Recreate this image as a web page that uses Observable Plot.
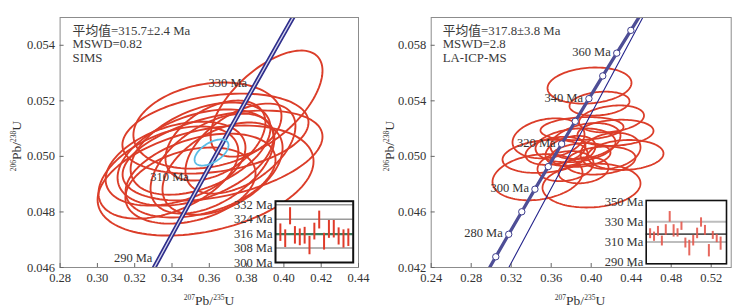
<!DOCTYPE html>
<html>
<head>
<meta charset="utf-8">
<script src="https://cdn.jsdelivr.net/npm/d3@7"></script>
<script src="https://cdn.jsdelivr.net/npm/@observablehq/plot@0.6"></script>
<style>
  html, body { margin: 0; padding: 0; background: #fff; }
  #wrap { position: relative; width: 747px; height: 308px; overflow: hidden; font-family: "Liberation Serif", "Noto Sans CJK SC", serif; color: #333; }
  #wrap svg { overflow: visible; font-family: "Liberation Serif", "Noto Sans CJK SC", serif; }
  #wrap svg text { font-family: "Liberation Serif", "Noto Sans CJK SC", serif; }
  .abs { position: absolute; }
  .axlab { font-size: 13.5px; white-space: nowrap; text-align: center; color: #333; }
  .axlab sup { font-size: 7.5px; vertical-align: 5px; }
</style>
</head>
<body>
<div id="wrap"></div>
<script>
// ---------- data ----------
const leftXTicks = [0.28, 0.30, 0.32, 0.34, 0.36, 0.38, 0.40, 0.42, 0.44];
const leftYTicks = [0.046, 0.048, 0.050, 0.052, 0.054];
const rightXTicks = [0.24, 0.28, 0.32, 0.36, 0.40, 0.44, 0.48, 0.52];
const rightYTicks = [0.042, 0.046, 0.050, 0.054, 0.058];

// concordia points (age Ma, 207Pb/235U, 206Pb/238U)
const concAges = [260, 270, 280, 290, 300, 310, 320, 330, 340, 350, 360, 370, 380];
const concX = [0.29183, 0.30458, 0.31752, 0.33058, 0.34374, 0.35706, 0.37045, 0.38403, 0.39774, 0.41156, 0.42555, 0.43965, 0.45388];
const concY = [0.041157, 0.042773, 0.044392, 0.046013, 0.047638, 0.049264, 0.050893, 0.052524, 0.054158, 0.055795, 0.057434, 0.059075, 0.060719];

// second (thin) reference line in the right panel
const thinX = [0.3176, 0.4516];
const thinY = [0.042, 0.060];

// left panel (SIMS) error ellipses: centre, half extents, correlation
const leftCX = [0.3580, 0.3907, 0.3590, 0.3633, 0.3671, 0.3419, 0.3381, 0.3526, 0.3553, 0.3617, 0.3671, 0.3553, 0.3767, 0.3633, 0.3499];
const leftCY = [0.04913, 0.05190, 0.05111, 0.05082, 0.05003, 0.04974, 0.04942, 0.04996, 0.05028, 0.04974, 0.04956, 0.04931, 0.05028, 0.05057, 0.04895];
const leftSX = [0.0579, 0.0300, 0.0397, 0.0499, 0.0536, 0.0375, 0.0375, 0.0418, 0.0375, 0.0332, 0.0322, 0.0402, 0.0295, 0.0268, 0.0349];
const leftSY = [0.00198, 0.00191, 0.00155, 0.00144, 0.00162, 0.00151, 0.00166, 0.00173, 0.00166, 0.00180, 0.00166, 0.00151, 0.00162, 0.00144, 0.00137];
const leftRho = [0.35, 0.62, 0.22, 0.28, 0.42, 0.38, 0.45, 0.42, 0.45, 0.50, 0.45, 0.38, 0.50, 0.45, 0.32];
// mean concordia-age ellipse
const leftMean = [0.3612, 0.05014, 0.0091, 0.00047, 0.55];

// right panel (LA-ICP-MS) error ellipses
const rightCX = [0.3983, 0.4083, 0.4203, 0.4343, 0.4003, 0.3463, 0.3538, 0.3573, 0.3943, 0.4243, 0.3793, 0.3893, 0.3908, 0.3743, 0.4093, 0.3843, 0.3643, 0.4193, 0.3923];
const rightCY = [0.0551, 0.0538, 0.0527, 0.0501, 0.0479, 0.0485, 0.0500, 0.0513, 0.0511, 0.0517, 0.0504, 0.0501, 0.0520, 0.0493, 0.0497, 0.0508, 0.0504, 0.0504, 0.0490];
const rightSX = [0.042, 0.030, 0.0325, 0.038, 0.049, 0.045, 0.0425, 0.036, 0.035, 0.038, 0.025, 0.030, 0.0415, 0.028, 0.035, 0.040, 0.030, 0.030, 0.025];
const rightSY = [0.0013, 0.00086, 0.00097, 0.00108, 0.00158, 0.00166, 0.00119, 0.00144, 0.0013, 0.00094, 0.00108, 0.00086, 0.00083, 0.00108, 0.00101, 0.00122, 0.00101, 0.0013, 0.00094];
const rightRho = [0.15, 0.2, 0.25, 0.1, 0.1, 0.2, 0.2, 0.2, 0.3, 0.15, 0.3, 0.2, 0.15, 0.2, 0.2, 0.2, 0.3, 0.2, 0.2];

// labelled ages
const leftLabelAges = [330, 310, 290];
const rightLabelAges = [360, 340, 320, 300, 280];
const rightMarkerAges = [270, 280, 290, 300, 310, 320, 330, 340, 350, 360, 370];

// annotations
const leftNotes = ["平均值=315.7±2.4 Ma", "MSWD=0.82", "SIMS"];
const rightNotes = ["平均值=317.8±3.8 Ma", "MSWD=2.8", "LA-ICP-MS"];

// inset: individual ages (Ma), error bar ends
const leftAgeLow = [311.7, 308.3, 320.9, 310.2, 309.3, 310.2, 304.3, 312.5, 318.6, 306.9, 313.4, 313.6, 309.7, 308.0, 308.9];
const leftAgeHigh = [321.4, 318.1, 330.4, 319.9, 318.6, 319.5, 314.5, 321.8, 328.5, 316.2, 323.3, 323.3, 319.2, 318.1, 318.6];
const leftMeanAge = 315.7;
const leftInsetTicks = [300, 308, 316, 324, 332];
const leftInsetGuides = [308, 324, 332];

const rightAgeLow = [313.3, 310.7, 315.9, 306.1, 316.6, 329.6, 314.9, 314.9, 321.5, 304.1, 296.3, 306.1, 313.3, 324.7, 316.6, 295.3, 312.6, 309.4, 301.9];
const rightAgeHigh = [323.1, 319.8, 325.4, 315.9, 327.1, 340.1, 327.1, 323.1, 329.6, 313.9, 311.7, 316.6, 323.7, 333.9, 326.4, 307.5, 320.5, 317.5, 314.9];
const rightMeanAge = 317.8;
const rightInsetTicks = [290, 310, 330, 350];
const rightInsetGuides = [310, 330];

// ---------- helpers ----------
function ellipses(cx, cy, sx, sy, rho) {
  const pts = [];
  const n = 120;
  cx.forEach((_, j) => {
    const k = Math.sqrt(1 - rho[j] * rho[j]);
    for (let i = 0; i < n; i++) {
      const t = 2 * Math.PI * i / n;
      pts.push({id: j, x: cx[j] + sx[j] * Math.cos(t), y: cy[j] + sy[j] * (rho[j] * Math.cos(t) + k * Math.sin(t))});
    }
  });
  return pts;
}
const conc = concAges.map((a, i) => ({age: a, x: concX[i], y: concY[i]}));
const concAt = a => conc.find(d => d.age === a);

const FONT = "'Liberation Serif', 'Noto Sans CJK SC', serif";
const STYLE = "font-family: 'Liberation Serif', 'Noto Sans CJK SC', serif; font-size: 12.5px; color: #333; background: transparent; overflow: visible;";
const RED = "#db3d29";
const wrap = document.getElementById("wrap");
function place(node, left, top) {
  node.style.position = "absolute";
  node.style.left = left + "px";
  node.style.top = top + "px";
  wrap.appendChild(node);
}
const txt = {fill: "#333", fontSize: 12.5, fontFamily: FONT};

// ---------- left main plot ----------
const leftPlot = Plot.plot({
  width: 374, height: 308,
  marginLeft: 59.6, marginRight: 16, marginTop: 17, marginBottom: 41,
  x: {domain: [0.28, 0.44]},
  y: {domain: [0.046, 0.055]},
  style: STYLE,
  marks: [
    Plot.line(ellipses(leftCX, leftCY, leftSX, leftSY, leftRho), {x: "x", y: "y", z: "id", curve: "linear-closed", stroke: RED, strokeWidth: 1.9, clip: true}),
    Plot.line(conc, {x: "x", y: "y", stroke: "#2f2f8c", strokeWidth: 4.6, clip: true}),
    Plot.line(conc, {x: "x", y: "y", stroke: "#d6d6ee", strokeWidth: 1.3, clip: true}),
    Plot.line(ellipses([leftMean[0]], [leftMean[1]], [leftMean[2]], [leftMean[3]], [leftMean[4]]), {x: "x", y: "y", z: "id", curve: "linear-closed", stroke: "#5cbde6", strokeWidth: 1.8}),
    Plot.text([concAt(leftLabelAges[0])], {x: "x", y: "y", text: d => d.age + " Ma", textAnchor: "end", dx: -7, dy: -3, ...txt}),
    Plot.text([concAt(leftLabelAges[1])], {x: "x", y: "y", text: d => d.age + " Ma", textAnchor: "end", dx: -15, dy: 0, ...txt}),
    Plot.text([concAt(leftLabelAges[2])], {x: "x", y: "y", text: d => d.age + " Ma", textAnchor: "end", dx: -2, dy: -9, ...txt}),
    Plot.text([leftNotes.join("\n")], {frameAnchor: "top-left", lineAnchor: "top", dx: 12.5, dy: 8, lineHeight: 1.04, fill: "#3a3a3a", fontSize: 12.8, fontFamily: FONT}),
    Plot.frame({stroke: "#8c8c8c"}),
    Plot.axisX({ticks: leftXTicks, tickSize: -4, tickPadding: 10, tickFormat: d3.format(".2f"), label: null, stroke: "#666", ...txt}),
    Plot.axisY({ticks: leftYTicks, tickSize: -4, tickPadding: 9, tickFormat: d3.format(".3f"), label: null, stroke: "#666", ...txt})
  ]
});
place(leftPlot, 0, 0);

// ---------- right main plot ----------
const rightPlot = Plot.plot({
  width: 373, height: 308,
  marginLeft: 56.7, marginRight: 16.3, marginTop: 17, marginBottom: 41,
  x: {domain: [0.24, 0.54]},
  y: {domain: [0.042, 0.060]},
  style: STYLE,
  marks: [
    Plot.line(ellipses(rightCX, rightCY, rightSX, rightSY, rightRho), {x: "x", y: "y", z: "id", curve: "linear-closed", stroke: RED, strokeWidth: 1.8, clip: true}),
    Plot.line(thinX.map((x, i) => ({x, y: thinY[i]})), {x: "x", y: "y", stroke: "#25258c", strokeWidth: 1.1, clip: true}),
    Plot.line(conc, {x: "x", y: "y", stroke: "#4e4e96", strokeWidth: 3.3, clip: true}),
    Plot.dot(rightMarkerAges.map(concAt), {x: "x", y: "y", r: 3.2, fill: "white", stroke: "#3c3c8c", strokeWidth: 1}),
    Plot.text(rightLabelAges.map(concAt), {x: "x", y: "y", text: d => d.age + " Ma", textAnchor: "end", dx: -6, dy: -1, ...txt}),
    Plot.text([rightNotes.join("\n")], {frameAnchor: "top-left", lineAnchor: "top", dx: 11.5, dy: 8, lineHeight: 1.04, fill: "#3a3a3a", fontSize: 12.8, fontFamily: FONT}),
    Plot.frame({stroke: "#8c8c8c"}),
    Plot.axisX({ticks: rightXTicks, tickSize: -4, tickPadding: 10, tickFormat: d3.format(".2f"), label: null, stroke: "#666", ...txt}),
    Plot.axisY({ticks: rightYTicks, tickSize: -4, tickPadding: 9, tickFormat: d3.format(".3f"), label: null, stroke: "#666", ...txt})
  ]
});
place(rightPlot, 374, 0);

// ---------- insets ----------
const leftInset = Plot.plot({
  width: 132, height: 65,
  marginLeft: 52, marginRight: 2.3, marginTop: 1.7, marginBottom: 2,
  x: {domain: [0, 16], axis: null},
  y: {domain: [300, 334]},
  style: STYLE,
  marks: [
    Plot.frame({fill: "white"}),
    Plot.ruleY(leftInsetGuides, {stroke: "#9a9a9a", strokeWidth: 1.5}),
    Plot.ruleY([leftMeanAge], {stroke: "#3e7b5e", strokeWidth: 2.2}),
    Plot.ruleX(leftAgeLow.map((lo, i) => ({i: i + 1, lo, hi: leftAgeHigh[i]})), {x: "i", y1: "lo", y2: "hi", stroke: "#e03b29", strokeWidth: 2}),
    Plot.frame({stroke: "#111", strokeWidth: 2}),
    Plot.axisY({ticks: leftInsetTicks, tickSize: 0, tickPadding: 3, tickFormat: d => d + " Ma", label: null, ...txt})
  ]
});
place(leftInset, 223, 199);

const rightInset = Plot.plot({
  width: 138, height: 67,
  marginLeft: 55.7, marginRight: 2, marginTop: 2, marginBottom: 1.7,
  x: {domain: [0, 20.5], axis: null},
  y: {domain: [288.5, 351]},
  style: STYLE,
  marks: [
    Plot.frame({fill: "white"}),
    Plot.ruleY(rightInsetGuides, {stroke: "#bdbdbd", strokeWidth: 2.2}),
    Plot.ruleY([rightMeanAge], {stroke: "#555", strokeWidth: 1.6}),
    Plot.ruleX(rightAgeLow.map((lo, i) => ({i: i + 1, lo, hi: rightAgeHigh[i]})), {x: "i", y1: "lo", y2: "hi", stroke: "#e4584c", strokeWidth: 2, strokeOpacity: 0.9}),
    Plot.frame({stroke: "#111", strokeWidth: 1.6}),
    Plot.axisY({ticks: rightInsetTicks, tickSize: 0, tickPadding: 3, tickFormat: d => d + " Ma", label: null, ...txt})
  ]
});
place(rightInset, 590, 198);

// ---------- axis titles with superscripts ----------
function axisTitle(html, cx, cy, rotate) {
  const d = document.createElement("div");
  d.className = "abs axlab";
  d.innerHTML = html;
  d.style.width = "120px";
  d.style.height = "16px";
  d.style.lineHeight = "16px";
  d.style.left = (cx - 60) + "px";
  d.style.top = (cy - 8) + "px";
  if (rotate) d.style.transform = "rotate(-90deg)";
  wrap.appendChild(d);
}
const xTitle = "<sup>207</sup>Pb/<sup>235</sup>U";
const yTitle = "<sup>206</sup>Pb/<sup>238</sup>U";
axisTitle(xTitle, 209, 298, false);
axisTitle(xTitle, 580, 298, false);
axisTitle(yTitle, 14, 146, true);
axisTitle(yTitle, 387, 146, true);
</script>
</body>
</html>
